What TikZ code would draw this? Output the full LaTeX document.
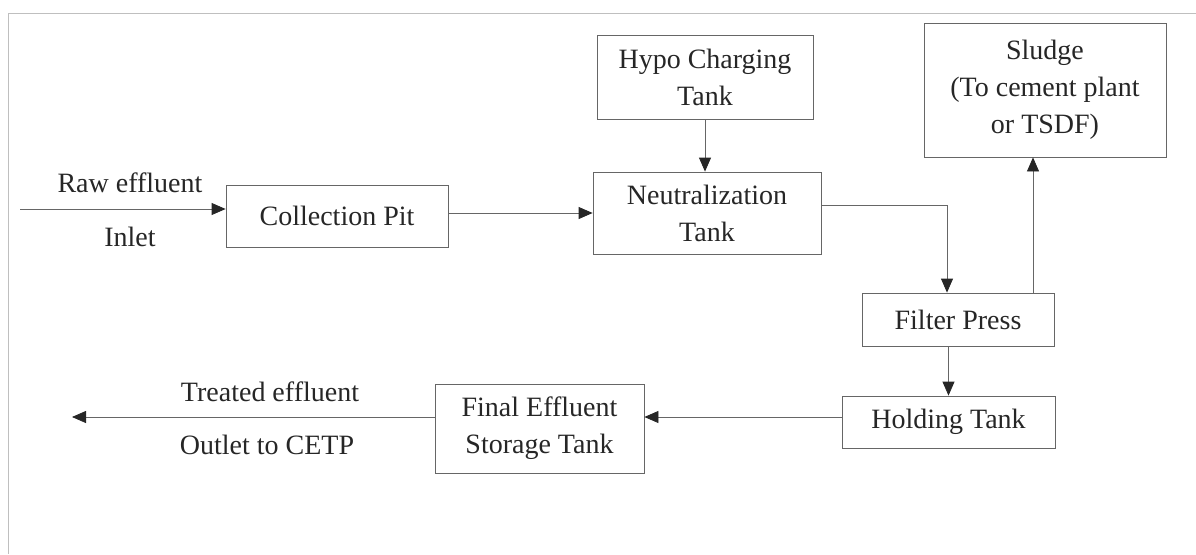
\documentclass[tikz,border=0pt]{standalone}
\usepackage{fontspec}
\setmainfont{Liberation Serif}
\usepackage{tikz}
\usetikzlibrary{arrows.meta}

\begin{document}
\begin{tikzpicture}[x=1pt, y=-1pt]
               \tikzstyle{myBox}=[rectangle, draw=black!60, line width=0.8pt, align=center, inner sep=0pt, text=black!85, font=\fontsize{28}{37}\selectfont]
               \tikzstyle{myTxt}=[text=black!85, inner sep=0pt, font=\fontsize{28}{37}\selectfont]
               \tikzstyle{myArr}=[draw=black!60, line width=0.8pt, -{Triangle[length=14pt, width=12pt, color=black!85]}]

               \useasboundingbox (0,0) rectangle (1196,554);
               \draw[black!25, line width=0.8pt] (8,554) -- (8,13) -- (1196,13);

               \node[myBox, minimum width=222, minimum height=62] (pit) at (337,216) {Collection Pit};
               \node[myBox, minimum width=216, minimum height=84] (hypo) at (705,77) {Hypo Charging\\Tank};
               \node[myBox, minimum width=228, minimum height=82] (neut) at (707,213) {Neutralization\\Tank};
               \node[myBox, minimum width=242, minimum height=134] (sludge) at (1045,90) {Sludge\\(To cement plant\\or TSDF)};
               \node[myBox, minimum width=192, minimum height=53] (filter) at (958,319.5) {Filter Press};
               \node[myBox, minimum width=213, minimum height=52] (hold) at (948.5,422) {Holding Tank};
               \node[myBox, minimum width=209, minimum height=89] (final) at (539.5,428.5) {Final Effluent\\Storage Tank};

               \node[myTxt] (raw) at (130,183) {Raw effluent};
               \node[myTxt] (inlet) at (130,237) {Inlet};
               \node[myTxt] (treated) at (270,392) {Treated effluent};
               \node[myTxt] (outlet) at (267,445) {Outlet to CETP};

               \coordinate (in) at (20,209);
               \coordinate (out) at (72,417);

               \draw[myArr] (in) -- (in -| pit.west);
               \draw[myArr] (pit.east |- neut.west) -- (neut.west);
               \draw[myArr] (hypo.south) -- (hypo.south |- neut.north);
               \draw[myArr] ([yshift=8pt]neut.east) -| ([xshift=-11pt]filter.north);
               \draw[myArr] ([xshift=75pt]filter.north) -- ([xshift=75pt]filter.north |- sludge.south);
               \draw[myArr] (hold.north |- filter.south) -- (hold.north);
               \draw[myArr] ([yshift=5pt]hold.west) -- ([yshift=5pt]hold.west -| final.east);
               \draw[myArr] (final.west |- out) -- (out);
            \end{tikzpicture}
\end{document}
